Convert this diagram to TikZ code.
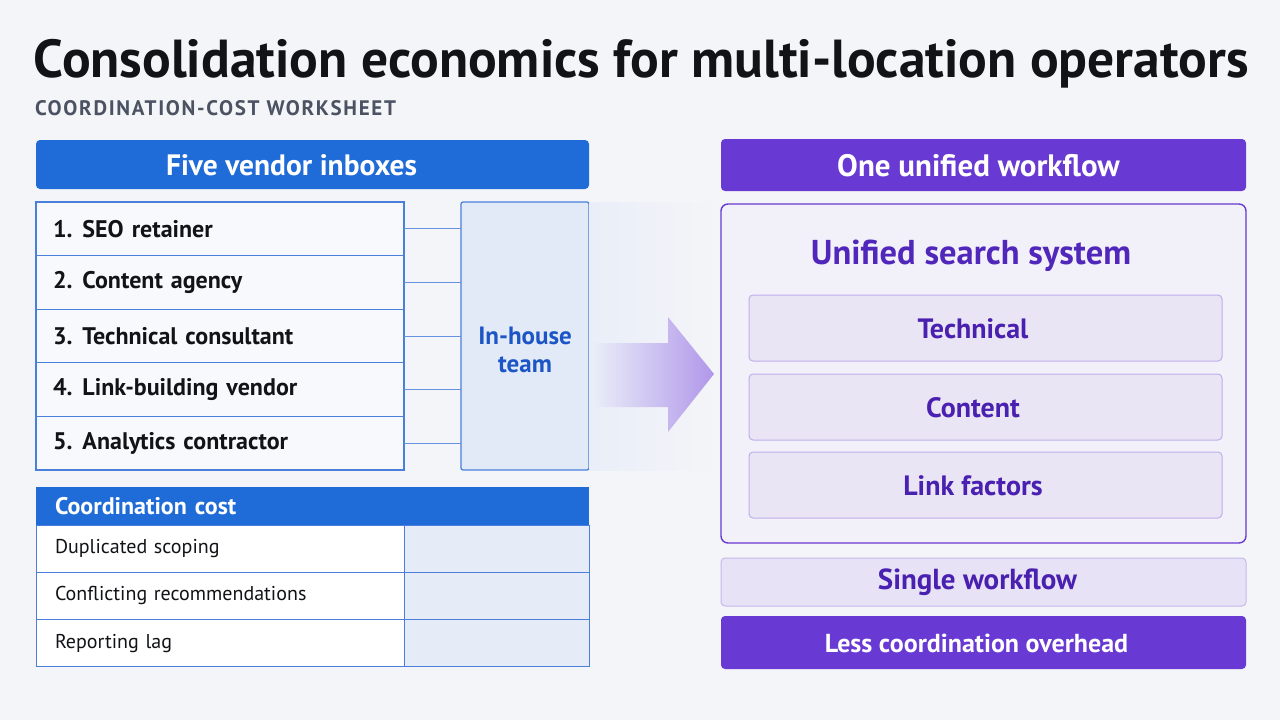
\documentclass[tikz,border=0pt]{standalone}
\usepackage{fontspec}
\setmainfont{PT Sans}
\usetikzlibrary{positioning}

\definecolor{pagebg}{HTML}{F4F5F8}
\definecolor{titleink}{HTML}{111317}
\definecolor{subink}{HTML}{4B5262}
\definecolor{bluemain}{HTML}{1F6BD8}
\definecolor{blueline}{HTML}{4A80DC}
\definecolor{rowfill}{HTML}{F8F9FC}
\definecolor{teamfill}{HTML}{E3EAF7}
\definecolor{teamink}{HTML}{1B55C6}
\definecolor{cellfill}{HTML}{E5EBF7}
\definecolor{purplemain}{HTML}{6839D3}
\definecolor{purpleink}{HTML}{5127BB}
\definecolor{boxink}{HTML}{4A20B0}
\definecolor{unifiedfill}{HTML}{F2F0F9}
\definecolor{subfill}{HTML}{E9E5F4}
\definecolor{subline}{HTML}{BFAEEC}
\definecolor{singlefill}{HTML}{E7E2F5}
\definecolor{singleline}{HTML}{C6B8EE}
\definecolor{arrowL}{HTML}{E9EEF8}
\definecolor{arrowM}{HTML}{93A4E6}
\definecolor{arrowR}{HTML}{B197EA}

\begin{document}
\begin{tikzpicture}[x=1pt, y=-1pt,
    every node/.style={outer sep=0pt},
    hdr/.style={rounded corners=4pt, minimum width=525pt},
    hdrtext/.style={text=white, font=\fontsize{30}{34}\selectfont\bfseries},
    row/.style={draw=blueline, line width=1.3pt, fill=rowfill, text width=334pt, inner xsep=17pt,
        minimum height=53.6pt, align=left, text=titleink, font=\fontsize{24}{27}\selectfont\bfseries},
    costrow/.style={draw=blueline, line width=1pt, fill=white, text width=330pt, inner xsep=19pt,
        minimum height=47.3pt, align=left, text=titleink, font=\fontsize{20}{24}\selectfont},
    costcell/.style={draw=blueline, line width=1pt, fill=cellfill, minimum width=185pt, minimum height=47.3pt},
    subbox/.style={draw=subline, line width=1pt, fill=subfill, rounded corners=4pt,
        minimum width=473pt, minimum height=66pt},
    boxtext/.style={text=boxink, font=\fontsize{28}{31}\selectfont\bfseries},
    link/.style={draw=blueline!85, line width=1pt}]

    % Page
    \fill[pagebg] (0,0) rectangle (1280,720);
    \useasboundingbox (0,0) rectangle (1280,720);

    % Title
    \node[anchor=base west, inner sep=0pt, text=titleink, font=\fontsize{53.5}{60}\selectfont\bfseries] (title)
        at (34,77) {Consolidation economics for multi-location operators};
    \node[anchor=base west, inner sep=0pt, text=subink,
        font=\fontsize{21}{24}\selectfont\bfseries\addfontfeature{LetterSpace=8}] (subtitle)
        at (35,115) {COORDINATION-COST WORKSHEET};

    % Five vendors
    \node[hdr, fill=bluemain, minimum width=553pt, minimum height=49pt] (hdrL) at (312.5,164.5) {};
    \node[hdrtext, font=\fontsize{29.5}{33}\selectfont\bfseries] (hdrLtxt) at (291.5,165) {Five vendor inboxes};
    \node[row, anchor=north west] (v1) at (36,202) {1.\hspace{10pt}SEO retainer};
    \node[row, below=0pt of v1] (v2) {2.\hspace{10pt}Content agency};
    \node[row, below=0pt of v2] (v3) {3.\hspace{10pt}Technical consultant};
    \node[row, below=0pt of v3] (v4) {4.\hspace{10pt}Link-building vendor};
    \node[row, below=0pt of v4] (v5) {5.\hspace{10pt}Analytics contractor};

    % In-house team
    \node[draw=blueline, line width=1.3pt, fill=teamfill, rounded corners=2pt, anchor=north west,
        minimum width=128pt, minimum height=268pt] (team) at (461,202) {};
    \node[align=center, text=teamink, font=\fontsize{25}{28}\selectfont\bfseries] (teamlbl) at (525,350) {In-house\\team};
    \draw[link] (v1.east) -- (v1.east -| team.west);
    \draw[link] (v2.east) -- (v2.east -| team.west);
    \draw[link] (v3.east) -- (v3.east -| team.west);
    \draw[link] (v4.east) -- (v4.east -| team.west);
    \draw[link] (v5.east) -- (v5.east -| team.west);

    % Coordination cost
    \node[fill=bluemain, anchor=north west, text width=515pt, inner xsep=19pt, minimum height=38pt, align=left,
        text=white, font=\fontsize{24}{27}\selectfont\bfseries] (cchead) at (36,487) {Coordination cost};
    \node[costrow, below=0pt of cchead.south west, anchor=north west] (c1) {Duplicated scoping};
    \node[costrow, below=0pt of c1] (c2) {Conflicting recommendations};
    \node[costrow, below=0pt of c2] (c3) {Reporting lag};
    \node[costcell, right=0pt of c1] (d1) {};
    \node[costcell, right=0pt of c2] (d2) {};
    \node[costcell, right=0pt of c3] (d3) {};

    % Arrow
    \shade[left color=arrowL, right color=pagebg] (589,202) rectangle (720,470);
    \shade[left color=arrowL, middle color=arrowM, right color=arrowR]
        (593,343) -- (668,343) -- (668,317) -- (714,374) -- (668,432) -- (668,407) -- (593,407) -- cycle;

    % One workflow
    \node[hdr, fill=purplemain, minimum height=52pt] (hdrR) at (983.5,165) {};
    \node[hdrtext, font=\fontsize{31}{34}\selectfont\bfseries] (hdrRtxt) at (978.5,166) {One unified workflow};
    \node[draw=purplemain, line width=1.4pt, fill=unifiedfill, rounded corners=7pt, anchor=north west,
        minimum width=525pt, minimum height=339pt] (unified) at (721,204) {};
    \node[text=purpleink, font=\fontsize{34.5}{38}\selectfont\bfseries] (usys) at (971,256) {Unified search system};
    \node[subbox] (tech) at (985.5,328) {};
    \node[boxtext] (techtxt) at (973,329) {Technical};
    \node[subbox] (content) at (985.5,407) {};
    \node[boxtext] (contenttxt) at (973,408) {Content};
    \node[subbox] (linkf) at (985.5,485) {};
    \node[boxtext] (linkftxt) at (973,486) {Link factors};
    \node[hdr, draw=singleline, line width=1pt, fill=singlefill, minimum height=48pt] (single) at (983.5,582) {};
    \node[boxtext, font=\fontsize{29}{32}\selectfont\bfseries] (singletxt) at (977.5,582) {Single workflow};
    \node[hdr, fill=purplemain, minimum height=53pt] (less) at (983.5,642.5) {};
    \node[hdrtext, font=\fontsize{26}{30}\selectfont\bfseries] (lesstxt) at (976.5,643) {Less coordination overhead};
\end{tikzpicture}
\end{document}
